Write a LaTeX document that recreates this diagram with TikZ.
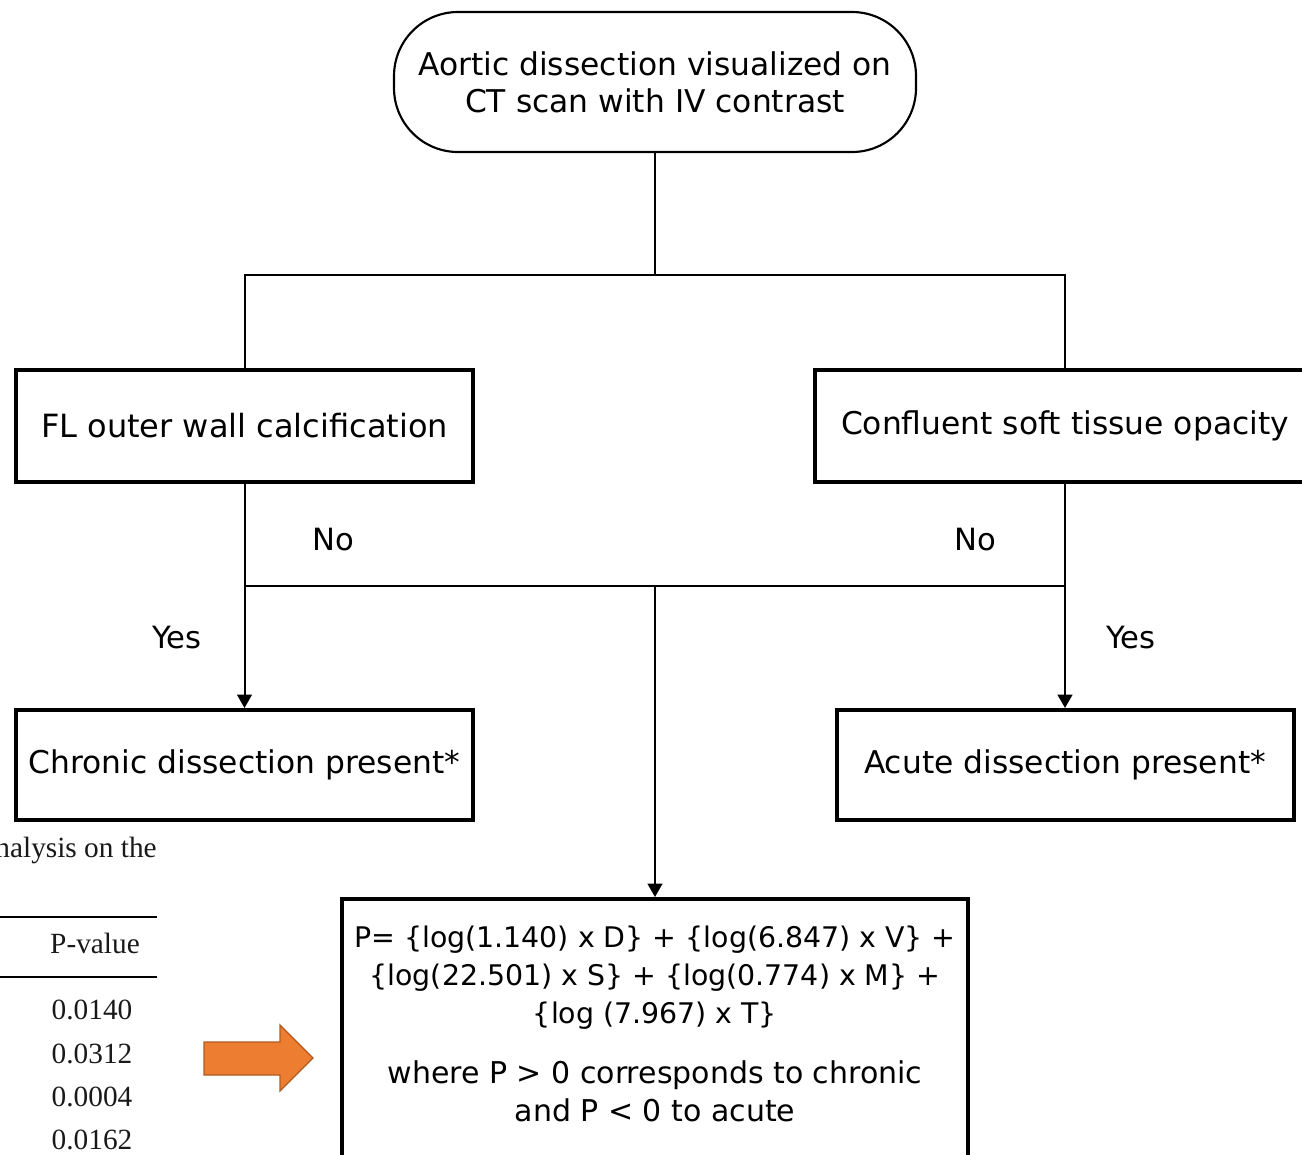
\documentclass[tikz,border=0pt]{standalone}
\usepackage{fontspec}
\setmainfont{DejaVu Sans}
\newfontfamily\tablefont{Liberation Serif}
\usetikzlibrary{arrows.meta}
\definecolor{arrowfill}{HTML}{ED7D31}
\definecolor{arrowedge}{HTML}{AE5A21}
\tikzset{
  box/.style={draw, line width=3pt, minimum width=342.75pt, minimum height=84pt,
    font=\fontsize{23.5}{28}\selectfont},
  startbox/.style={draw, line width=1.6pt, rounded corners=48pt, minimum width=391.5pt,
    minimum height=105pt, align=center, font=\fontsize{23.5}{28}\selectfont},
  link/.style={line width=1.5pt},
  answer/.style={font=\fontsize{23}{28}\selectfont},
  tab/.style={font=\tablefont\fontsize{22}{26}\selectfont, text=black!90},
  pointer/.style={fill=arrowfill, draw=arrowedge, line width=1pt}
}
\begin{document}
\begin{tikzpicture}[x=0.75pt,y=-0.75pt,>={Triangle[length=10pt,width=11pt]}]
  \useasboundingbox (0,0) rectangle (1302,1154);
  \node[startbox] (start) at (655,82) {Aortic dissection visualized on\\CT scan with IV contrast};
  \node[box, font=\fontsize{24}{28}\selectfont] (calc) at (244.5,426) {FL outer wall calcification};
  \node[box, minimum width=375pt] (opac) at (1065,426) {Confluent soft tissue opacity};
  \node[box, minimum height=82.5pt] (chronic) at (244.5,765) {Chronic dissection present*};
  \node[box, minimum height=82.5pt] (acute) at (1065,765) {Acute dissection present*};
  \node[box, anchor=north, minimum width=469.5pt, align=center, inner ysep=20pt, text depth=60pt,
    font=\fontsize{21.3}{28.5}\selectfont] (score) at (655,897)
    {P= \{log(1.140) x D\} + \{log(6.847) x V\} +\\
     \{log(22.501) x S\} + \{log(0.774) x M\} +\\
     \{log (7.967) x T\}\\[17pt]
     {\fontsize{22.5}{28}\selectfont where P > 0 corresponds to chronic}\\
     {\fontsize{22.5}{28}\selectfont and P < 0 to acute}};
  \coordinate (split) at (655,275);
  \coordinate (merge) at (655,586);
  \draw[link] (start) -- (split);
  \draw[link] (calc) |- (split) -| (opac);
  \draw[link] (calc |- merge) -- (opac |- merge);
  \draw[link,->] (calc) -- (chronic);
  \draw[link,->] (opac) -- (acute);
  \draw[link,->] (merge) -- (score);
  \node[answer] (noL) at (333,540) {No};
  \node[answer] (noR) at (975,540) {No};
  \node[answer] (yesL) at (177,638) {Yes};
  \node[answer] (yesR) at (1131,638) {Yes};
  % part of the table beside the figure
  \node[tab, anchor=east, inner sep=0pt] (caption) at (157,850) {nalysis on the};
  \draw[line width=1.2pt] (0,917) -- (157,917);
  \draw[line width=2.2pt] (0,977) -- (157,977);
  \node[tab] (pval) at (95,943) {P-value};
  \foreach \v/\y in {0.0140/1010,0.0312/1054,0.0004/1097,0.0162/1140}
    \node[tab] (val\y) at (92,\y) {\v};
  \draw[pointer] (204,1042) -- (280,1042) -- (280,1025) -- (313,1058) -- (280,1091)
    -- (280,1075) -- (204,1075) -- cycle;
\end{tikzpicture}
\end{document}
